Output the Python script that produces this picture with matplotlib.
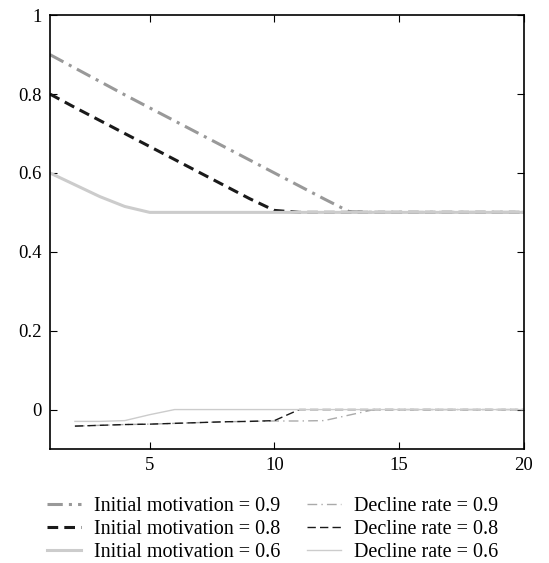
import matplotlib.pyplot as plt

plt.rcParams['font.family'] = ['Liberation Serif', 'DejaVu Serif']

# valores
x_init = list(range(1, 21))
init_09 = [0.9, 0.866, 0.832, 0.798, 0.765, 0.732, 0.699, 0.666, 0.633, 0.6,
           0.567, 0.534, 0.502, 0.5, 0.5, 0.5, 0.5, 0.5, 0.5, 0.5]
init_08 = [0.8, 0.766, 0.733, 0.7, 0.667, 0.634, 0.601, 0.568, 0.535, 0.505,
           0.5, 0.5, 0.5, 0.5, 0.5, 0.5, 0.5, 0.5, 0.5, 0.5]
init_06 = [0.6, 0.57, 0.54, 0.515, 0.5, 0.5, 0.5, 0.5, 0.5, 0.5,
           0.5, 0.5, 0.5, 0.5, 0.5, 0.5, 0.5, 0.5, 0.5, 0.5]

x_decl = list(range(2, 21))
decl_09 = [-0.042, -0.04, -0.038, -0.037, -0.035, -0.033, -0.031, -0.03, -0.029,
           -0.029, -0.028, -0.014, 0.0, 0.0, 0.0, 0.0, 0.0, 0.0, 0.0]
decl_08 = [-0.042, -0.04, -0.038, -0.037, -0.035, -0.033, -0.031, -0.03, -0.028,
           0.0, 0.0, 0.0, 0.0, 0.0, 0.0, 0.0, 0.0, 0.0, 0.0]
decl_06 = [-0.03, -0.03, -0.028, -0.013, 0.0, 0.0, 0.0, 0.0, 0.0,
           0.0, 0.0, 0.0, 0.0, 0.0, 0.0, 0.0, 0.0, 0.0, 0.0]

x_ticks = [5, 10, 15, 20]
y_ticks = [0, 0.2, 0.4, 0.6, 0.8, 1]
y_labels = ['0', '0.2', '0.4', '0.6', '0.8', '1']

fig = plt.figure(figsize=(5.49, 5.63), dpi=100)
ax = fig.add_axes([0.091, 0.2025, 0.863, 0.7705])

ax.plot(x_init, init_09, color='#999999', lw=2.2, ls=(0, (5, 2, 1, 2)),
        label='Initial motivation = 0.9')
ax.plot(x_init, init_08, color='#1a1a1a', lw=2.2, ls=(0, (3.5, 2)),
        label='Initial motivation = 0.8')
ax.plot(x_init, init_06, color='#cccccc', lw=2.2, ls='-',
        label='Initial motivation = 0.6')
ax.plot(x_decl, decl_09, color='#aaaaaa', lw=1, ls=(0, (7, 3, 1, 3)),
        label='Decline rate = 0.9')
ax.plot(x_decl, decl_08, color='#1a1a1a', lw=1, ls=(0, (6, 3)),
        label='Decline rate = 0.8')
ax.plot(x_decl, decl_06, color='#cccccc', lw=1, ls='-',
        label='Decline rate = 0.6')

ax.set_xlim(1, 20)
ax.set_ylim(-0.1, 1)
ax.set_xticks(x_ticks)
ax.set_yticks(y_ticks)
ax.set_yticklabels(y_labels)
ax.tick_params(direction='in', top=True, right=True, labelsize=13.5, length=5, pad=6)
for s in ax.spines.values():
    s.set_linewidth(1.2)

fig.legend(loc='upper left', bbox_to_anchor=(47 / 549, 1 - 497 / 563), ncol=2,
           frameon=False, fontsize=14.5, handlelength=1.7, columnspacing=1.3,
           labelspacing=0.2, handletextpad=0.65, borderpad=0, borderaxespad=0)

plt.savefig('out.png')
